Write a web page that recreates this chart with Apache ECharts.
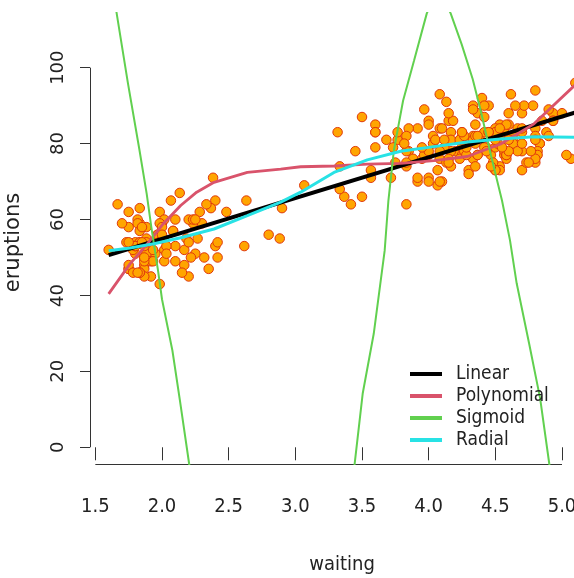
<!DOCTYPE html>
<html><head><meta charset="utf-8">
<script src="https://cdn.jsdelivr.net/npm/echarts@6/dist/echarts.min.js"></script>
<style>html,body{margin:0;padding:0;background:#fff;overflow:hidden}#c{width:574px;height:578px}</style>
</head><body><div id="c"></div>
<script>
// ---- data: scatter points (x = horizontal, y = vertical) ----
const ptX = [3.600,1.800,3.333,2.283,4.533,2.883,4.700,3.600,1.950,4.350,
1.833,3.917,4.200,1.750,4.700,2.167,1.750,4.800,1.600,4.250,
1.800,1.750,3.450,3.067,4.533,3.600,1.967,4.083,3.850,4.433,
4.300,4.467,3.367,4.033,3.833,2.017,1.867,4.833,1.833,4.783,
4.350,1.883,4.567,1.750,4.533,3.317,3.833,2.100,4.633,2.000,
4.800,4.716,1.833,4.833,1.733,4.883,3.717,1.667,4.567,4.317,
2.233,4.500,1.750,4.800,1.817,4.400,4.167,4.700,2.067,4.700,
4.033,1.967,4.500,4.000,1.983,5.067,2.017,4.567,3.883,3.600,
4.133,4.333,4.100,2.633,4.067,4.933,3.950,4.517,2.167,4.000,
2.200,4.333,1.867,4.817,1.833,4.300,4.667,3.750,1.867,4.900,
2.483,4.367,2.100,4.500,4.050,1.867,4.700,1.783,4.850,3.683,
4.733,2.300,4.900,4.417,1.700,4.633,2.317,4.600,1.817,4.417,
2.617,4.067,4.250,1.967,4.600,3.767,1.917,4.500,2.267,4.650,
1.867,4.167,2.800,4.333,1.833,4.383,1.883,4.933,2.033,3.733,
4.233,2.233,4.533,4.817,4.333,1.983,4.633,2.017,5.100,1.800,
5.033,4.000,2.400,4.600,3.567,4.000,4.500,4.083,1.800,3.967,
2.200,4.150,2.000,3.833,3.500,4.583,2.367,5.000,1.933,4.617,
1.917,2.083,4.583,3.333,4.167,4.333,4.500,2.417,4.000,4.167,
1.883,4.583,4.250,3.767,2.033,4.433,4.083,1.833,4.417,2.183,
4.800,1.833,4.800,4.100,3.966,4.233,3.500,4.366,2.250,4.667,
2.100,4.350,4.133,1.867,4.600,1.783,4.367,3.850,1.933,4.500,
2.383,4.700,1.867,3.833,3.417,4.233,2.400,4.800,2.000,4.150,
1.867,4.267,1.750,4.483,4.000,4.117,4.083,4.267,3.917,4.550,
4.083,2.417,4.183,2.217,4.450,1.883,1.850,4.283,3.950,2.333,
4.150,2.350,4.933,2.900,4.583,3.833,2.083,4.367,2.133,4.350,
2.200,4.450,3.567,4.500,4.150,3.817,3.917,4.450,2.000,4.283,
4.767,4.533,1.850,4.250,1.983,2.250,4.750,4.117,2.150,4.417,
1.817,4.467];
const ptY = [79,54,74,62,85,55,88,85,51,85,
54,84,78,47,83,52,62,84,52,79,
51,47,78,69,74,83,55,76,78,79,
73,77,66,80,74,52,48,80,59,90,
80,58,84,58,73,83,64,53,82,59,
75,90,54,80,54,83,71,64,77,81,
59,84,48,82,60,92,78,78,65,73,
82,56,79,71,62,76,60,78,76,83,
75,82,70,65,73,88,76,80,48,86,
60,90,50,78,63,72,84,75,51,82,
62,88,49,83,81,47,84,52,86,81,
75,59,89,79,59,81,50,85,59,87,
53,69,77,56,88,81,45,82,55,90,
45,83,56,89,46,82,51,86,53,79,
81,60,82,77,76,59,80,49,96,53,
77,77,65,81,71,70,81,93,53,89,
45,86,58,78,66,76,63,88,52,93,
49,57,77,68,81,81,73,50,85,74,
55,77,83,83,51,78,84,46,83,55,
81,57,76,84,77,81,87,77,51,78,
60,82,91,53,78,46,77,84,49,83,
71,80,49,75,64,76,53,94,55,76,
50,82,54,75,78,79,78,78,70,79,
70,54,86,50,90,54,54,77,79,64,
75,47,86,63,85,82,57,82,67,74,
54,83,73,73,88,80,71,83,56,79,
78,84,58,83,43,60,75,81,46,90,
46,74];

// ---- fitted curves ----
const linX = [1.6, 5.1];
const linY = [50.6, 88.2];
const polyX = [1.6,1.76,1.89,2.01,2.14,2.26,2.39,2.64,2.89,3.04,3.29,3.54,3.79,4.04,4.29,4.54,4.79,5.1];
const polyY = [40.4,48.3,53.6,58.9,63.7,67.2,69.8,72.4,73.3,73.9,74.1,74.6,74.8,75.5,76.6,79.9,85.2,95.5];
const sigX = [1.6,1.66,1.745,1.83,1.885,1.92,1.97,2.0,2.078,2.134,2.203,2.4,2.65,2.9,3.15,3.35,3.445,3.505,3.588,3.67,3.698,3.739,3.808,3.89,3.986,4.07,4.165,4.247,4.33,4.39,4.468,4.55,4.61,4.66,4.753,4.836,4.904,5.1];
const sigY = [128,114.3,95.8,78.5,66.8,58,46.6,39,25.5,12.4,-4.2,-48,-85,-95,-70,-32,-4.3,14.1,29.9,51.8,65,78.2,91.3,101.8,114.3,121,114.3,106.2,97,88.7,76.8,65,54.5,43.2,27.4,12.9,-4.2,-45];
const radX = [1.6,1.76,1.94,2.14,2.39,2.64,2.89,3.04,3.29,3.54,3.79,4.04,4.29,4.54,4.79,5.1];
const radY = [51.8,52.5,53.6,55.2,57.5,61,64.6,67.2,72.4,75.7,78,79.2,80.4,81.2,81.8,81.7];

// ---- ticks ----
const xTicks = [1.5,2.0,2.5,3.0,3.5,4.0,4.5,5.0];
const yTicks = [0,20,40,60,80,100];
const seriesNames = ['Linear','Polynomial','Sigmoid','Radial'];

const NARROW = "'Liberation Sans Narrow','DejaVu Sans Condensed','Arial Narrow',sans-serif";
const X_MIN = 1.46, X_MAX = 5.24, Y_MIN = -4.4, Y_MAX = 114.4;
const zip = (a, b) => a.map((v, i) => [v, b[i]]);

const chart = echarts.init(document.getElementById('c'), null, {renderer: 'canvas'});
const lineSeries = (name, xs, ys, color, w) => ({
  name, type: 'line', data: zip(xs, ys), symbol: 'none', showSymbol: false,
  clip: true, lineStyle: {color, width: w}, itemStyle: {color}, z: 3
});
chart.setOption({
  animation: false,
  backgroundColor: '#fff',
  grid: {left: 90, top: 13, width: 504, height: 451, containLabel: false, outerBoundsMode: 'none'},
  xAxis: {
    type: 'value', min: X_MIN, max: X_MAX,
    name: 'waiting', nameLocation: 'middle', nameGap: 91,
    nameTextStyle: {fontFamily: NARROW, fontSize: 20, color: '#222'},
    axisLine: {show: false}, splitLine: {show: false},
    axisTick: {show: true, customValues: xTicks, length: 13, lineStyle: {color: '#333', width: 1}},
    axisLabel: {customValues: xTicks, formatter: v => v.toFixed(1), margin: 33,
      fontFamily: NARROW, fontSize: 20, color: '#222'}
  },
  yAxis: {
    type: 'value', min: Y_MIN, max: Y_MAX,
    name: 'eruptions', nameLocation: 'middle', nameGap: 66, nameRotate: 90,
    nameTextStyle: {fontFamily: 'DejaVu Sans', fontSize: 21, color: '#222', padding: [0, 8, 0, 0]},
    axisLine: {show: false}, splitLine: {show: false},
    axisTick: {show: true, customValues: yTicks, length: 10, lineStyle: {color: '#333', width: 1}},
    axisLabel: {customValues: yTicks, rotate: 90, margin: 23,
      fontFamily: 'DejaVu Sans', fontSize: 18, color: '#222'}
  },
  legend: {
    data: seriesNames, orient: 'vertical', left: 410, top: 363, padding: 0,
    itemGap: 0, itemWidth: 32, itemHeight: 4, icon: 'rect',
    textStyle: {fontFamily: NARROW, fontSize: 19, color: '#222', lineHeight: 22, padding: [0, 0, 0, 9]}
  },
  series: [
    {type: 'scatter', name: 'points', data: zip(ptX, ptY), symbol: 'circle', symbolSize: 9.5,
      itemStyle: {color: '#FFA500', borderColor: '#E0380C', borderWidth: 1, opacity: 1}, z: 2},
    lineSeries('Linear', linX, linY, '#000000', 4),
    lineSeries('Polynomial', polyX, polyY, '#D9536B', 2.8),
    lineSeries('Sigmoid', sigX, sigY, '#61D04F', 2),
    lineSeries('Radial', radX, radY, '#28E2E5', 3)
  ]
});
// R-style axis lines spanning only first..last tick
const a = chart.convertToPixel({gridIndex: 0}, [xTicks[0], Y_MIN]);
const b = chart.convertToPixel({gridIndex: 0}, [xTicks[xTicks.length - 1], Y_MIN]);
const c = chart.convertToPixel({gridIndex: 0}, [X_MIN, yTicks[0]]);
const d = chart.convertToPixel({gridIndex: 0}, [X_MIN, yTicks[yTicks.length - 1]]);
const h = v => Math.round(v) + 0.5;
chart.setOption({graphic: [
  {type: 'line', shape: {x1: a[0], y1: h(a[1]), x2: b[0], y2: h(b[1])}, style: {stroke: '#333', lineWidth: 1}},
  {type: 'line', shape: {x1: h(c[0]), y1: c[1], x2: h(d[0]), y2: d[1]}, style: {stroke: '#333', lineWidth: 1}}
]});
</script></body></html>
